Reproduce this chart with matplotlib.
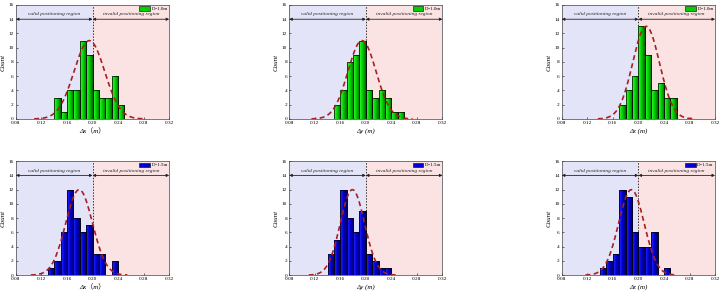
import matplotlib
matplotlib.use("Agg")
import matplotlib.pyplot as plt
import numpy as np
from matplotlib.colors import LinearSegmentedColormap

plt.rcParams['font.family'] = ['Liberation Serif', 'Noto Sans CJK SC', 'DejaVu Serif']

# bin left edges (width 0.01) and counts for each panel
bin_w = 0.01
edges_x10 = [0.14, 0.15, 0.16, 0.17, 0.18, 0.19, 0.20, 0.21, 0.22, 0.23, 0.24]
counts_x10 = [3, 1, 4, 4, 11, 9, 4, 3, 3, 6, 2]
edges_y10 = [0.15, 0.16, 0.17, 0.18, 0.19, 0.20, 0.21, 0.22, 0.23, 0.24, 0.25]
counts_y10 = [2, 4, 8, 9, 11, 4, 3, 4, 3, 1, 1]
edges_z10 = [0.17, 0.18, 0.19, 0.20, 0.21, 0.22, 0.23, 0.24, 0.25]
counts_z10 = [2, 4, 6, 13, 9, 4, 5, 3, 3]
edges_x15 = [0.13, 0.14, 0.15, 0.16, 0.17, 0.18, 0.19, 0.20, 0.21, 0.22, 0.23]
counts_x15 = [1, 2, 6, 12, 8, 6, 7, 3, 3, 0, 2]
edges_y15 = [0.14, 0.15, 0.16, 0.17, 0.18, 0.19, 0.20, 0.21, 0.22, 0.23]
counts_y15 = [3, 5, 12, 8, 6, 9, 3, 2, 1, 1]
edges_z15 = [0.14, 0.15, 0.16, 0.17, 0.18, 0.19, 0.20, 0.21, 0.22, 0.23, 0.24]
counts_z15 = [1, 2, 3, 12, 11, 6, 4, 4, 6, 0, 1]

# normal fit curves: mean, sigma, peak
fit_x10 = (0.195, 0.024, 11)
fit_y10 = (0.194, 0.022, 11)
fit_z10 = (0.212, 0.021, 13)
fit_x15 = (0.179, 0.021, 12)
fit_y15 = (0.179, 0.019, 12)
fit_z15 = (0.189, 0.020, 12)

xlabels = ['Δx（m）', 'Δy (m)', 'Δz (m)']
legend_10 = 'D=1.0m'
legend_15 = 'D=1.5m'
xticks = [0.08, 0.12, 0.16, 0.20, 0.24, 0.28, 0.32]
yticks = [0, 2, 4, 6, 8, 10, 12, 14, 16]

green_cmap = LinearSegmentedColormap.from_list('g', ['#3cff3c', '#00d000', '#006400'])
blue_cmap = LinearSegmentedColormap.from_list('b', ['#2a2aff', '#0000d0', '#000060'])

fig = plt.figure(figsize=(7.23, 2.93), dpi=100)

lefts = [0.022, 0.400, 0.777]
bottoms = [0.594, 0.061]
w, h = 0.212, 0.389

panels = [
    (edges_x10, counts_x10, fit_x10, 0, 0, green_cmap, legend_10),
    (edges_y10, counts_y10, fit_y10, 0, 1, green_cmap, legend_10),
    (edges_z10, counts_z10, fit_z10, 0, 2, green_cmap, legend_10),
    (edges_x15, counts_x15, fit_x15, 1, 0, blue_cmap, legend_15),
    (edges_y15, counts_y15, fit_y15, 1, 1, blue_cmap, legend_15),
    (edges_z15, counts_z15, fit_z15, 1, 2, blue_cmap, legend_15),
]

grad = np.linspace(0, 1, 64).reshape(1, -1)

for edges, counts, fit, r, c, cmap, leg in panels:
    ax = fig.add_axes([lefts[c], bottoms[r], w, h])
    ax.axvspan(0.08, 0.20, color='#e4e4f8', zorder=0)
    ax.axvspan(0.20, 0.32, color='#fbe3e3', zorder=0)
    ax.axvline(0.20, color='#333333', ls=(0, (1.5, 1.5)), lw=0.7, zorder=1)

    bars = ax.bar(edges, counts, width=bin_w, align='edge',
                  color=cmap(0.5), edgecolor='black', lw=0.5, zorder=2)
    # gradient fill clipped to each bar
    for p in bars:
        if p.get_height() <= 0:
            continue
        x0, y0 = p.get_x(), p.get_y()
        im = ax.imshow(grad, cmap=cmap, aspect='auto', zorder=2.5,
                       extent=[x0, x0 + p.get_width(), y0, y0 + p.get_height()])
        im.set_clip_path(p)
        ax.add_patch(plt.Rectangle((x0, y0), p.get_width(), p.get_height(),
                                   fill=False, ec='black', lw=0.5, zorder=2.6))
    ax.set_xlim(0.08, 0.32)
    ax.set_ylim(0, 16)

    mu, sd, pk = fit
    xs = np.linspace(mu - 3.6 * sd, mu + 3.6 * sd, 200)
    ax.plot(xs, pk * np.exp(-(xs - mu) ** 2 / (2 * sd ** 2)),
            color='#a82020', ls=(0, (3, 2)), lw=1.2, zorder=3)

    # region arrows and labels
    ax.annotate('', xy=(0.08, 14), xytext=(0.20, 14),
                arrowprops=dict(arrowstyle='<|-|>', color='#222222', lw=0.6,
                                mutation_scale=4, shrinkA=0, shrinkB=0))
    ax.annotate('', xy=(0.20, 14), xytext=(0.32, 14),
                arrowprops=dict(arrowstyle='<|-|>', color='#222222', lw=0.6,
                                mutation_scale=4, shrinkA=0, shrinkB=0))
    ax.text(0.14, 14.4, 'valid positioning region', ha='center', va='bottom',
            fontsize=3.9, style='italic', color='#222222')
    ax.text(0.26, 14.4, 'invalid positioning region', ha='center', va='bottom',
            fontsize=3.9, style='italic', color='#222222')

    ax.set_xticks(xticks)
    ax.set_xticklabels(['%.2f' % t for t in xticks])
    ax.set_yticks(yticks)
    ax.tick_params(labelsize=3.8, direction='in', length=1.5, width=0.4, pad=1.5)
    for s in ax.spines.values():
        s.set_linewidth(0.5)
        s.set_color('#444444')
    ax.set_xlabel(xlabels[c], fontsize=5, style='italic', labelpad=2)
    ax.set_ylabel('Count', fontsize=5, style='italic', labelpad=2)

    handle = plt.Rectangle((0, 0), 1, 1, fc=cmap(0.5), ec='black', lw=0.4)
    ax.legend([handle], [leg], loc='upper right', fontsize=3.5, frameon=False,
              handlelength=2.2, handleheight=1.0, borderpad=0.2,
              handletextpad=0.3, borderaxespad=0.1)

fig.savefig('out.png', dpi=100)
